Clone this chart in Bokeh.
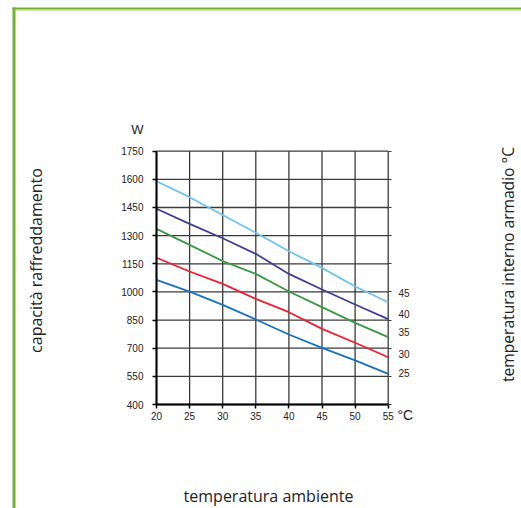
import math
from bokeh.plotting import figure
from bokeh.models import Range1d, FixedTicker, LinearAxis, Label, BoxAnnotation
from bokeh.embed import file_html
from bokeh.resources import INLINE

# ---------------- data ----------------
ambient = [20, 25, 30, 35, 40, 45, 50, 55]
cab_25 = [1064, 1002, 931, 853, 773, 702, 635, 563]
cab_30 = [1182, 1109, 1043, 963, 892, 803, 729, 652]
cab_35 = [1336, 1251, 1164, 1096, 1002, 919, 835, 759]
cab_40 = [1443, 1363, 1286, 1203, 1096, 1013, 933, 855]
cab_45 = [1590, 1505, 1410, 1315, 1217, 1128, 1029, 945]
series_names = ["25", "30", "35", "40", "45"]
x_ticks = [20, 25, 30, 35, 40, 45, 50, 55]
y_ticks = [400, 550, 700, 850, 1000, 1150, 1300, 1450, 1600, 1750]

# ---------------- layout ----------------
FIG_W, FIG_H = 521, 508
# where the data box sits, in page pixels
PL, PR, PT, PB = 156.0, 387.7, 150.7, 404.0
X0, X1, Y0, Y1 = 20, 55, 400, 1750
sx = (X1 - X0) / (PR - PL)
sy = (Y1 - Y0) / (PB - PT)
XMIN, XMAX = X0 - PL * sx, X1 + (FIG_W - PR) * sx
YMAX, YMIN = Y1 + PT * sy, Y0 - (FIG_H - PB) * sy

def px_x(px):
    return XMIN + px * sx

def px_y(py):
    return YMAX - py * sy

colors = ["#1872bc", "#ee2030", "#3a9a42", "#3e3f96", "#6cc3ef"]
label_px_y = [372, 353, 331, 313, 292]

p = figure(width=FIG_W, height=FIG_H, output_backend="svg", toolbar_location=None,
           x_range=Range1d(XMIN, XMAX), y_range=Range1d(YMIN, YMAX),
           min_border=0, x_axis_type=None, y_axis_type=None)
p.outline_line_color = None
p.background_fill_color = "white"
p.border_fill_color = "white"

tick_font = "Liberation Sans"
text_col = "#222222"

# grid lines drawn from tick lists
grid_col = "#3a3a3a"
p.segment(x0=x_ticks, x1=x_ticks, y0=[Y0] * len(x_ticks), y1=[Y1] * len(x_ticks),
          line_color=grid_col, line_width=1.3)
p.segment(x0=[X0] * len(y_ticks), x1=[X1] * len(y_ticks), y0=y_ticks, y1=y_ticks,
          line_color=grid_col, line_width=1.3)

xaxis = LinearAxis(ticker=FixedTicker(ticks=x_ticks), fixed_location=Y0, bounds=(X0, X1))
yaxis = LinearAxis(ticker=FixedTicker(ticks=y_ticks), fixed_location=X0, bounds=(Y0, Y1))
for ax in (xaxis, yaxis):
    ax.axis_line_color = "black"
    ax.axis_line_width = 2
    ax.major_tick_line_color = "black"
    ax.major_tick_line_width = 1.5
    ax.major_tick_in = 0
    ax.major_tick_out = 4
    ax.minor_tick_line_color = None
    ax.major_label_text_font = tick_font
    ax.major_label_text_font_size = "10px"
    ax.major_label_text_color = text_col
xaxis.major_label_standoff = 3
yaxis.major_label_standoff = 9
p.add_layout(xaxis, "below")
p.add_layout(yaxis, "left")

raxis = LinearAxis(ticker=FixedTicker(ticks=y_ticks), fixed_location=X1, bounds=(Y0, Y1))
raxis.axis_line_color = None
raxis.major_tick_in = 0
raxis.major_tick_out = 3
raxis.major_tick_line_color = grid_col
raxis.minor_tick_line_color = None
raxis.major_label_text_font_size = "0px"
raxis.major_label_text_color = None
p.add_layout(raxis, "right")

all_series = [cab_25, cab_30, cab_35, cab_40, cab_45]
for vals, col in zip(all_series, colors):
    p.line(ambient, vals, line_color=col, line_width=1.8)

for name, py in zip(series_names, label_px_y):
    p.add_layout(Label(x=px_x(398), y=px_y(py), text=name, text_font=tick_font,
                       text_font_size="10px", text_color=text_col,
                       text_baseline="middle", text_align="left"))

p.add_layout(Label(x=px_x(137), y=px_y(129), text="W", text_font=tick_font,
                   text_font_size="13px", text_color=text_col,
                   text_baseline="middle", text_align="center"))
p.add_layout(Label(x=px_x(397), y=px_y(414), text="°C", text_font=tick_font,
                   text_font_size="14px", text_color=text_col,
                   text_baseline="middle", text_align="left"))

title_font = "Open Sans"
p.add_layout(Label(x=px_x(35), y=px_y(260), text="capacità raffreddamento",
                   text_font=title_font, text_font_size="16px", text_color=text_col,
                   angle=math.pi / 2, text_baseline="middle", text_align="center"))
p.add_layout(Label(x=px_x(507), y=px_y(264), text="temperatura interno armadio °C",
                   text_font=title_font, text_font_size="15.6px", text_color=text_col,
                   angle=math.pi / 2, text_baseline="middle", text_align="center"))
p.add_layout(Label(x=px_x(268), y=px_y(495), text="temperatura ambiente",
                   text_font=title_font, text_font_size="16px", text_color=text_col,
                   text_baseline="middle", text_align="center"))

# green frame border (left and top)
green = "#72b12b"
light = "#a6d27a"
p.add_layout(BoxAnnotation(left=px_x(12), right=px_x(15), top=px_y(7), bottom=px_y(FIG_H + 5),
                           fill_color=green, fill_alpha=1, line_color=None, level="overlay"))
p.add_layout(BoxAnnotation(left=px_x(12), right=px_x(FIG_W + 5), top=px_y(7), bottom=px_y(9),
                           fill_color=green, fill_alpha=1, line_color=None, level="overlay"))
p.add_layout(BoxAnnotation(left=px_x(15), right=px_x(FIG_W + 5), top=px_y(9), bottom=px_y(10),
                           fill_color=light, fill_alpha=1, line_color=None, level="overlay"))

open("out.html", "w").write(file_html(p, INLINE))
